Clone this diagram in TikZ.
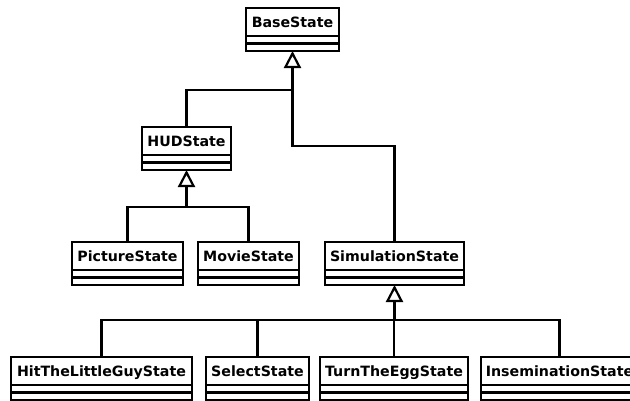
\documentclass[tikz,border=0pt]{standalone}
\usepackage{fontspec}
\setmainfont{DejaVu Sans}
\usetikzlibrary{arrows.meta}
\tikzset{
  umlline/.style={line width=2.2pt, draw=black},
  namebox/.style={umlline, fill=white, inner sep=0pt, outer sep=0pt, minimum height=28pt,
    font=\fontsize{14.2pt}{16pt}\selectfont\bfseries, text height=10pt, text depth=0pt},
  opsbox/.style={umlline, fill=white, inner sep=0pt, outer sep=0pt, minimum height=15pt},
  inherit/.style={umlline, -{Triangle[open, length=17pt, width=17pt, line width=2.2pt]}},
  link/.style={umlline}
}
\newcommand\umlclass[5]{%
  \node[namebox, minimum width={#3-#2}, anchor=north west] (#1) at (#2,#4) {#5};
  \node[opsbox, minimum width={#3-#2}, anchor=north] (#1b) at (#1.south) {};
  \draw[umlline] (#1b.west) -- (#1b.east);
}
\begin{document}
\begin{tikzpicture}[x=1pt,y=-1pt]
\useasboundingbox (0,0) rectangle (630,400);
\clip (0,0) rectangle (630,400);
\fill[white] (0,0) rectangle (630,400);
\umlclass{base}{246}{339}{8}{BaseState}
\umlclass{hud}{142}{231}{127}{HUDState}
\umlclass{pic}{72}{183}{242}{PictureState}
\umlclass{movie}{198}{299}{242}{MovieState}
\umlclass{sim}{325}{464}{242}{SimulationState}
\umlclass{hit}{11}{192}{357}{HitTheLittleGuyState}
\umlclass{sel}{206}{309}{357}{SelectState}
\umlclass{turn}{320}{468}{357}{TurnTheEggState}
\umlclass{insem}{481}{638}{357}{InseminationState}
% junctions
\coordinate (jbase) at (292.5,90);
\coordinate (ksim) at (292.5,146);
\coordinate (jhud) at (186.5,207);
\coordinate (jsim) at (394.5,320);
% BaseState tree
\draw[link] (hud.north) |- (jbase);
\draw[link] (sim.north) |- (ksim) -- (jbase);
\draw[inherit] (jbase) -- (baseb.south);
% HUDState tree
\draw[link] (pic.north) |- (jhud);
\draw[link] (movie.north) |- (jhud);
\draw[inherit] (jhud) -- (hudb.south);
% SimulationState tree
\draw[link] (hit.north) |- (jsim);
\draw[link] (sel.north) |- (jsim);
\draw[link] (turn.north) |- (jsim);
\draw[link] (insem.north) |- (jsim);
\draw[inherit] (jsim) -- (simb.south);
\end{tikzpicture}
\end{document}
